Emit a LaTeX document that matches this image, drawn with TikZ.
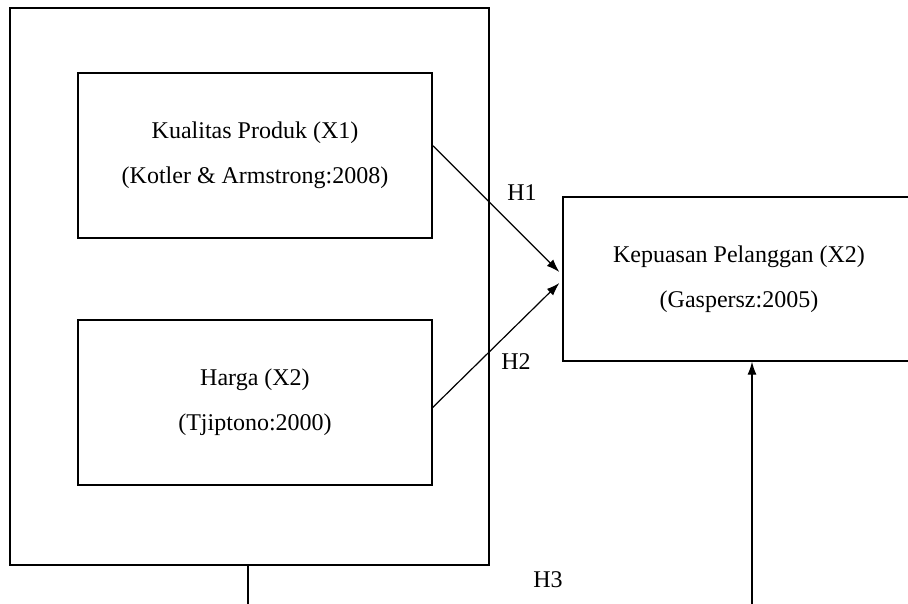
\documentclass[tikz,border=0pt]{standalone}
\usepackage{fontspec}
\setmainfont{Liberation Serif}
\usetikzlibrary{arrows.meta,calc}
\tikzset{
  box/.style={draw, line width=1.3pt, inner sep=0pt, align=center,
    font=\fontsize{24}{45}\selectfont},
  conn/.style={line width=1.2pt, -{Latex[length=13pt,width=9pt]}},
  plain/.style={line width=1.2pt},
  hlab/.style={font=\fontsize{24}{27}\selectfont, inner sep=0pt}
}
\begin{document}
\begin{tikzpicture}[x=1pt,y=-1pt]
\clip (0,0) rectangle (908,603);
\fill[white] (0,0) rectangle (908,603);
\node[box, minimum width=479pt, minimum height=557pt] (outer) at (249.5,286.5) {};
\node[box, minimum width=354pt, minimum height=165pt] (x1) at (255,155.5)
  {Kualitas Produk (X1)\\(Kotler \& Armstrong:2008)};
\node[box, minimum width=354pt, minimum height=165pt] (x2) at (255,402.5)
  {Harga (X2)\\(Tjiptono:2000)};
\node[box, minimum width=352pt, minimum height=164pt] (kep) at (739,279)
  {Kepuasan Pelanggan (X2)\\(Gaspersz:2005)};
\coordinate (a1) at ($(x1.east)+(0,-10)$);
\coordinate (a2) at ($(x2.east)+(0,5)$);
\coordinate (e1) at ($(kep.west)+(-3,-7)$);
\coordinate (e2) at ($(kep.west)+(-3,4)$);
\draw[conn] (a1) -- (e1);
\draw[conn] (a2) -- (e2);
\node[hlab] (h1) at (522,193) {H1};
\node[hlab] (h2) at (516,362) {H2};
\node[hlab] (h3) at (548,580) {H3};
\coordinate (b1) at (248,610);
\coordinate (b2) at (752,610);
\draw[plain] (outer.south -| b1) -- (b1);
\draw[conn] (b2) -- (kep.south -| b2);
\end{tikzpicture}
\end{document}
